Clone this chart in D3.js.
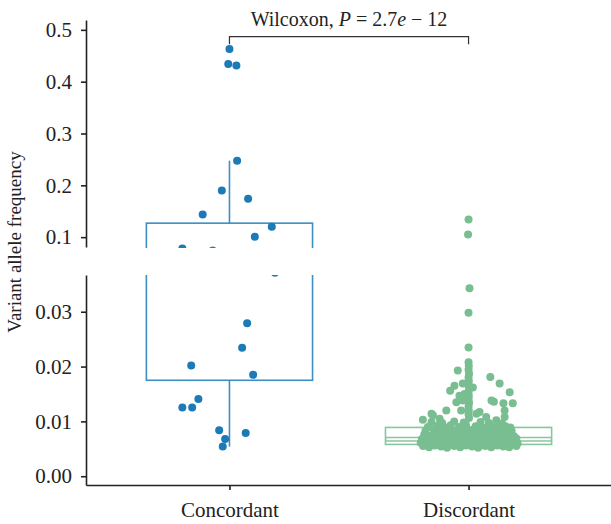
<!DOCTYPE html>
<html>
<head>
<meta charset="utf-8">
<script src="https://cdn.jsdelivr.net/npm/d3@7"></script>
<style>
  body { margin: 0; background: #fff; }
  text { font-family: "Liberation Serif", "DejaVu Serif", serif; fill: #222; }
</style>
</head>
<body>
<div class="graph-area"></div>
<script>
const categories = ['Concordant', 'Discordant'];

// [jitter (fraction of category step), variant allele frequency]
const concordantPoints = [
  [0.0, 0.463], [-0.005, 0.434], [0.029, 0.431], [0.032, 0.2475], [-0.032, 0.190],
  [0.078, 0.174], [-0.112, 0.1437], [0.177, 0.120], [0.106, 0.1006], [-0.197, 0.0779],
  [-0.07, 0.0744], [0.19, 0.0371], [0.074, 0.0279], [0.053, 0.02345], [-0.16, 0.0202],
  [0.099, 0.0185], [-0.13, 0.0141], [-0.197, 0.01255], [-0.156, 0.01255], [-0.043, 0.0084],
  [0.068, 0.0079], [-0.018, 0.0068], [-0.028, 0.0054],
];

const discordantPoints = [
  // outliers far above
  [0.0, 0.134], [-0.002, 0.105], [0.004, 0.0343], [0.0, 0.0298], [0.0, 0.0235],
  // central column
  [0.0, 0.0208], [0.001, 0.0201], [0.0, 0.0194], [0.002, 0.0187], [0.0, 0.0180],
  [0.001, 0.0173], [0.0, 0.0166], [0.002, 0.0159], [0.0, 0.0152], [0.001, 0.0146],
  [0.0, 0.0140], [0.002, 0.0134], [0.0, 0.0127], [0.001, 0.0120], [0.0, 0.0113], [0.002, 0.0106],
  // scattered mid points
  [-0.045, 0.0193], [0.091, 0.0181], [0.13, 0.0169], [0.172, 0.0153], [0.185, 0.0133],
  [0.106, 0.0136], [0.146, 0.0133], [0.151, 0.0120], [0.151, 0.0108], [-0.077, 0.0156],
  [-0.059, 0.0165], [-0.024, 0.0169], [-0.038, 0.0147], [-0.051, 0.0135], [-0.024, 0.0138],
  [0.018, 0.0162], [-0.031, 0.0120], [-0.093, 0.0120], [-0.149, 0.0111], [-0.191, 0.0103],
  [-0.121, 0.0105], [0.046, 0.0117], [0.074, 0.0108], [0.116, 0.0102], [0.158, 0.0090],
  [-0.017, 0.0150], [0.096, 0.0138], [-0.155, 0.0114], [0.033, 0.0114],
  // dense band near the box
  [-0.155, 0.0099], [-0.11, 0.0097], [-0.06, 0.0100], [-0.02, 0.0098], [0.05, 0.0099], [0.085, 0.0097], [0.14, 0.0096],
  [-0.17, 0.0090], [-0.13, 0.0092], [-0.1, 0.0089], [-0.075, 0.0093], [-0.04, 0.0090], [-0.01, 0.0092],
  [0.03, 0.0091], [0.06, 0.0089], [0.09, 0.0093], [0.12, 0.0090], [0.15, 0.0092], [0.175, 0.0089],
  [-0.18, 0.0083], [-0.145, 0.0085], [-0.12, 0.0082], [-0.09, 0.0084], [-0.06, 0.0081], [-0.03, 0.0084],
  [0.0, 0.0082], [0.02, 0.0085], [0.05, 0.0083], [0.08, 0.0081], [0.105, 0.0084], [0.13, 0.0082],
  [0.16, 0.0085], [0.18, 0.0083],
  [-0.185, 0.0076], [-0.16, 0.0074], [-0.13, 0.0077], [-0.1, 0.0075], [-0.07, 0.0073], [-0.045, 0.0076],
  [-0.015, 0.0074], [0.01, 0.0077], [0.04, 0.0075], [0.065, 0.0073], [0.09, 0.0076], [0.115, 0.0074],
  [0.14, 0.0077], [0.165, 0.0075], [0.19, 0.0073],
  [-0.195, 0.0068], [-0.17, 0.0070], [-0.14, 0.0067], [-0.11, 0.0069], [-0.085, 0.0066], [-0.055, 0.0069],
  [-0.03, 0.0067], [0.0, 0.0070], [0.025, 0.0068], [0.05, 0.0066], [0.075, 0.0069], [0.1, 0.0067],
  [0.13, 0.0070], [0.155, 0.0068], [0.18, 0.0066], [0.2, 0.0069],
  [-0.2, 0.0061], [-0.175, 0.0063], [-0.15, 0.0060], [-0.125, 0.0062], [-0.1, 0.0059], [-0.075, 0.0062],
  [-0.045, 0.0060], [-0.02, 0.0063], [0.005, 0.0061], [0.03, 0.0059], [0.055, 0.0062], [0.08, 0.0060],
  [0.11, 0.0063], [0.135, 0.0061], [0.16, 0.0059], [0.185, 0.0062], [0.205, 0.0060],
  [-0.19, 0.0055], [-0.165, 0.0053], [-0.14, 0.0056], [-0.115, 0.0054], [-0.09, 0.0052], [-0.06, 0.0055],
  [-0.035, 0.0053], [-0.01, 0.0056], [0.015, 0.0054], [0.04, 0.0052], [0.07, 0.0055], [0.095, 0.0053],
  [0.12, 0.0056], [0.145, 0.0054], [0.17, 0.0053], [0.2, 0.0055],
];

// box stats per category: [whisker low, Q1, median, Q3, whisker high]
const boxLow = [0.0054, 0.0050];
const boxQ1 = [0.0175, 0.0058];
const boxMedian = [0.055, 0.00675];
const boxQ3 = [0.127, 0.0089];
const boxHigh = [0.2475, 0.0135];

const upperTicks = [0.1, 0.2, 0.3, 0.4, 0.5];
const lowerTicks = [0.00, 0.01, 0.02, 0.03];
const testLabel = ['Wilcoxon, ', 'P', ' = 2.7', 'e', ' \u2212 12'];

const colors = {
  point: ['#1c7ab6', '#78be91'],
  box: ['#3d8ec2', '#86c79e'],
  axis: '#222',
};

const width = 611;
const height = 524;
const axisX = 86;

const svg = d3.select('.graph-area')
  .append('svg')
  .attr('width', width)
  .attr('height', height);

const x = d3.scalePoint().domain(categories).range([axisX, 612]).padding(0.6);
const jitter = d3.scaleLinear().domain([-0.5, 0.5]).range([-x.step() / 2, x.step() / 2]);
const boxHalf = jitter(0.695 / 2);

const yUpper = d3.scaleLinear().domain([0.081, 0.519]).range([247, 20]);
const yLower = d3.scaleLinear().domain([-0.0016, 0.0367]).range([485, 275]);

const panels = [
  { id: 'clip-upper', y: yUpper, top: 0, bottom: 248 },
  { id: 'clip-lower', y: yLower, top: 275, bottom: 485 },
];

const defs = svg.append('defs');

panels.forEach(panel => {
  defs.append('clipPath').attr('id', panel.id)
    .append('rect')
    .attr('x', axisX)
    .attr('y', panel.top)
    .attr('width', width - axisX)
    .attr('height', panel.bottom - panel.top);

  const g = svg.append('g').attr('clip-path', `url(#${panel.id})`);
  const y = panel.y;

  // boxes
  const box = g.selectAll('g.box')
    .data(categories)
    .enter()
    .append('g')
    .attr('class', 'box')
    .attr('stroke', (_d, i) => colors.box[i])
    .attr('fill', 'none')
    .attr('stroke-width', 1.6);

  box.append('line')
    .attr('x1', d => x(d)).attr('x2', d => x(d))
    .attr('y1', (_d, i) => y(boxQ3[i])).attr('y2', (_d, i) => y(boxHigh[i]));
  box.append('line')
    .attr('x1', d => x(d)).attr('x2', d => x(d))
    .attr('y1', (_d, i) => y(boxQ1[i])).attr('y2', (_d, i) => y(boxLow[i]));
  box.append('rect')
    .attr('x', d => x(d) - boxHalf)
    .attr('width', boxHalf * 2)
    .attr('y', (_d, i) => y(boxQ3[i]))
    .attr('height', (_d, i) => y(boxQ1[i]) - y(boxQ3[i]))
    .attr('fill', '#fff');
  box.append('line')
    .attr('x1', d => x(d) - boxHalf).attr('x2', d => x(d) + boxHalf)
    .attr('y1', (_d, i) => y(boxMedian[i])).attr('y2', (_d, i) => y(boxMedian[i]))
    .attr('stroke-width', 5);
  box.append('line')
    .attr('x1', d => x(d) - boxHalf + 1).attr('x2', d => x(d) + boxHalf - 1)
    .attr('y1', (_d, i) => y(boxMedian[i])).attr('y2', (_d, i) => y(boxMedian[i]))
    .attr('stroke', '#fff')
    .attr('stroke-width', 2);

  // points
  [concordantPoints, discordantPoints].forEach((points, i) => {
    g.append('g')
      .selectAll('circle')
      .data(points)
      .enter()
      .append('circle')
      .attr('cx', d => x(categories[i]) + jitter(d[0]))
      .attr('cy', d => y(d[1]))
      .attr('r', 4)
      .attr('fill', colors.point[i]);
  });
});

// axes
const styleAxis = axis => {
  axis.select('.domain').attr('stroke', colors.axis).attr('stroke-width', 1.6);
  axis.selectAll('.tick line').attr('stroke', colors.axis).attr('stroke-width', 1.6);
  axis.selectAll('.tick text')
    .attr('font-family', '"Liberation Serif", serif')
    .attr('font-size', 21)
    .attr('fill', colors.axis);
};

svg.append('g')
  .attr('transform', `translate(${axisX},0)`)
  .call(d3.axisLeft(yUpper).tickValues(upperTicks).tickFormat(d3.format('.1f')).tickSize(5).tickPadding(9).tickSizeOuter(0))
  .call(styleAxis);

svg.append('g')
  .attr('transform', `translate(${axisX},0)`)
  .call(d3.axisLeft(yLower).tickValues(lowerTicks).tickFormat(d3.format('.2f')).tickSize(5).tickPadding(9).tickSizeOuter(0))
  .call(styleAxis);

svg.append('g')
  .attr('transform', 'translate(0,485)')
  .call(d3.axisBottom(x).tickSize(5).tickPadding(12).tickSizeOuter(0))
  .call(styleAxis);

// y label
svg.append('text')
  .attr('transform', 'rotate(-90)')
  .attr('x', -242)
  .attr('y', 21)
  .attr('text-anchor', 'middle')
  .attr('font-size', 19)
  .text('Variant allele frequency');

// significance bracket
const bracketY = yUpper(0.487);
const bracketEnd = yUpper(0.472);
svg.append('path')
  .attr('d', d3.line()([
    [x(categories[0]), bracketEnd],
    [x(categories[0]), bracketY],
    [x(categories[1]), bracketY],
    [x(categories[1]), bracketEnd],
  ]))
  .attr('fill', 'none')
  .attr('stroke', '#333')
  .attr('stroke-width', 1.2);

const label = svg.append('text')
  .attr('x', (x(categories[0]) + x(categories[1])) / 2)
  .attr('y', 26)
  .attr('text-anchor', 'middle')
  .attr('font-size', 20);

label.selectAll('tspan')
  .data(testLabel)
  .enter()
  .append('tspan')
  .attr('font-style', (_d, i) => i % 2 === 1 ? 'italic' : null)
  .text(d => d);
</script>
</body>
</html>
